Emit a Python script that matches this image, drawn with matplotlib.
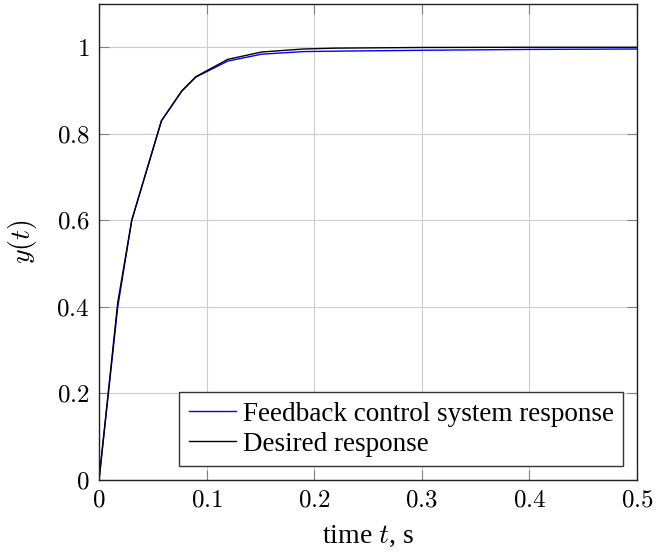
import numpy as np
import matplotlib
matplotlib.use('Agg')
import matplotlib.pyplot as plt
from matplotlib.ticker import FuncFormatter

plt.rcParams['font.family'] = ['Liberation Serif', 'DejaVu Serif']
plt.rcParams['mathtext.fontset'] = 'cm'

# Datos (pasos irregulares del integrador)
tiempo = [0, 0.0174, 0.0304, 0.058, 0.0768, 0.090, 0.1196, 0.151, 0.19,
          0.22, 0.30, 0.40, 0.50]
deseada = [0, 0.41, 0.60, 0.83, 0.899, 0.932, 0.972, 0.989, 0.996,
           0.998, 0.9995, 1.0, 1.0]
realimentada = [0, 0.40, 0.60, 0.83, 0.898, 0.931, 0.968, 0.984, 0.990,
                0.991, 0.993, 0.995, 0.996]

etiquetas = ["Feedback control system response", "Desired response"]

fig = plt.figure(figsize=(6.7, 5.54), dpi=100)
ax = fig.add_axes([0.1478, 0.1336, 0.8029, 0.8592])

ax.plot(tiempo, realimentada, color=(0, 0, 1), lw=1.0, label=etiquetas[0])
ax.plot(tiempo, deseada, color='black', lw=1.0, label=etiquetas[1])

ax.set_xlim(0, 0.5)
ax.set_ylim(0, 1.1)
ax.set_xticks(np.arange(0, 0.51, 0.1))
ax.set_yticks(np.arange(0, 1.01, 0.2))

# Etiquetas de los ejes en fuente matematica (estilo LaTeX)
def formato(v, pos):
    s = '%g' % round(v, 3)
    return '$' + s + '$'

ax.xaxis.set_major_formatter(FuncFormatter(formato))
ax.yaxis.set_major_formatter(FuncFormatter(formato))

ax.grid(True, color='#cccccc', lw=0.8)
ax.tick_params(direction='in', length=7, color='#808080', labelsize=18,
               top=True, right=True, pad=7)
for lado in ax.spines.values():
    lado.set_color('#202020')
    lado.set_linewidth(1.0)

ax.set_xlabel('time $t$, s', fontsize=20, labelpad=9)
ax.set_ylabel('$y(t)$', fontsize=20, labelpad=12)

leg = ax.legend(loc='lower right', fontsize=19.5, frameon=True, fancybox=False,
                edgecolor='#333333', framealpha=1, handlelength=1.75,
                handletextpad=0.25, borderpad=0.35, labelspacing=0.2,
                borderaxespad=0.5)
leg.get_frame().set_linewidth(1.0)

fig.savefig('out.png', dpi=100)
